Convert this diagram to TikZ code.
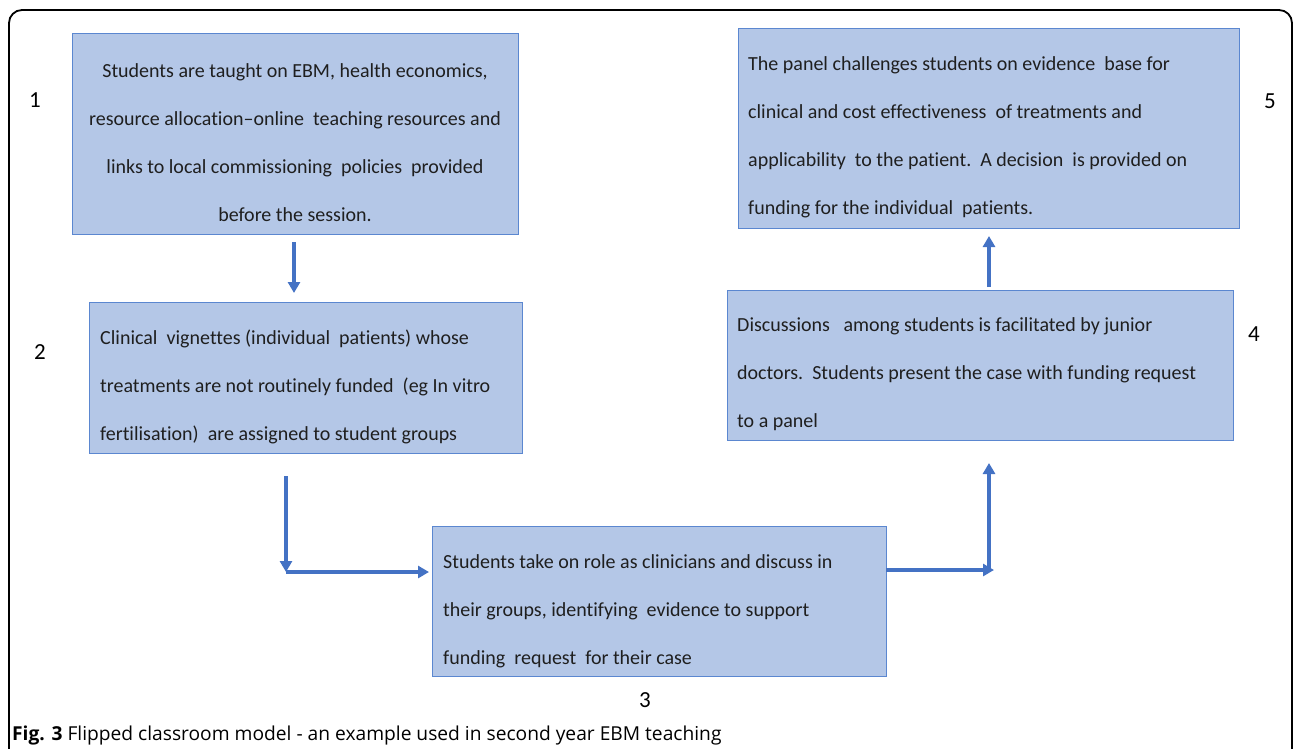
\documentclass[tikz,border=0pt]{standalone}
\usepackage{fontspec}
\setmainfont{Carlito}[Ligatures=NoCommon]
\newfontfamily\capfont{Open Sans}
\usetikzlibrary{arrows.meta}
\definecolor{boxfill}{HTML}{B4C7E7}
\definecolor{boxline}{HTML}{5B87D0}
\definecolor{arrcol}{HTML}{4472C4}
\tikzset{
  box/.style={draw=boxline, line width=1pt, fill=boxfill, inner sep=0pt},
  txt/.style={font=\fontsize{20}{48}\selectfont, text=black!88, inner sep=0pt},
  num/.style={font=\fontsize{23}{26}\selectfont, inner sep=0pt},
  arr/.style={draw=arrcol, line width=3.4pt, -{Triangle[length=11pt,width=12pt]}},
}
\begin{document}
\begin{tikzpicture}[x=1pt,y=-1pt]
\useasboundingbox (0,0) rectangle (1293,748);
\begin{scope}
\clip (0,0) rectangle (1293,748);
\draw[line width=1.8pt, rounded corners=13pt] (9,800) -- (9,10) -- (1292,10) -- (1292,800);
\end{scope}
% boxes
\node[box, minimum width=446pt, minimum height=201pt] (b1) at (295,133.5) {};
\node[box, minimum width=433pt, minimum height=151pt] (b2) at (305.5,377.5) {};
\node[box, minimum width=454pt, minimum height=150pt] (b3) at (659,601) {};
\node[box, minimum width=506pt, minimum height=150pt] (b4) at (980,365) {};
\node[box, minimum width=501pt, minimum height=200pt] (b5) at (988.5,128) {};
% texts
\node[txt, align=center] (t1) at (295,143) {Students are taught on EBM, health economics,\\resource allocation--online\ \ teaching resources and\\links to local commissioning\ \ policies\ \ provided\\before the session.};
\node[txt, align=left, anchor=west] (t2) at (100,387) {Clinical\ \ vignettes (individual\ \ patients) whose\\treatments are not routinely funded\ \ (eg In vitro\\fertilisation)\ \ are assigned to student groups};
\node[txt, align=left, anchor=west] (t3) at (443,611) {Students take on role as clinicians and discuss in\\their groups, identifying\ \ evidence to support\\funding\ \ request\ \ for their case};
\node[txt, align=left, anchor=west] (t4) at (737,374.5) {Discussions\ \ \ among students is facilitated by junior\\doctors.\ \ Students present the case with funding request\\to a panel};
\node[txt, align=left, anchor=west] (t5) at (748,137.5) {The panel challenges students on evidence\ \ base for\\clinical and cost effectiveness\ \ of treatments and\\applicability\ \ to the patient.\ \ A decision\ \ is provided on\\funding for the individual\ \ patients.};
% numbers
\node[num] (n1) at (35,100) {1};
\node[num] (n2) at (40,352) {2};
\node[num] (n3) at (645,700) {3};
\node[num] (n4) at (1254,334) {4};
\node[num] (n5) at (1270,101) {5};
% arrow coordinates
\coordinate (a1s) at (294,242);
\coordinate (a1e) at (294,293);
\coordinate (a2s) at (286,476);
\coordinate (a2c) at (286,572);
\coordinate (a2e) at (429,572);
\coordinate (a3s) at (886,570);
\coordinate (a3c) at (989,570);
\coordinate (a3e) at (994,570);
\coordinate (a3t) at (989,463);
\coordinate (a4s) at (989,287);
\coordinate (a4e) at (989,236);
\draw[arr] (a1s) -- (a1e);
\draw[arr] (a2s) -- (a2c);
\draw[arr] (a2c) -- (a2e);
\draw[arr] (a3s) -- (a3e);
\draw[arr] (a3c) -- (a3t);
\draw[arr] (a4s) -- (a4e);
% caption
\node[anchor=base west, inner sep=0pt, font=\capfont\fontsize{19.2}{22}\selectfont] (cap) at (12,740) {\textbf{Fig. 3} Flipped classroom model - an example used in second year EBM teaching};
\end{tikzpicture}
\end{document}
